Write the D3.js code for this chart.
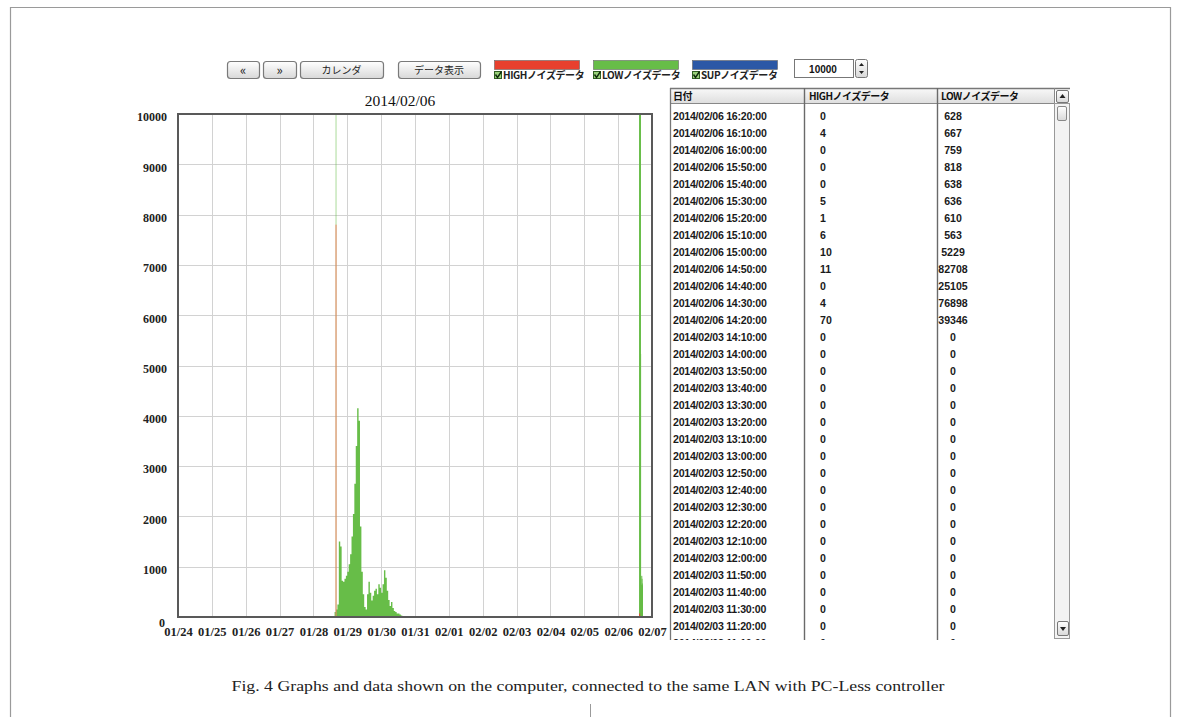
<!DOCTYPE html>
<html><head><meta charset="utf-8">
<script src="https://cdn.jsdelivr.net/npm/d3@7"></script>
<style>
html,body{margin:0;padding:0;background:#fff;}
svg{display:block;}
</style></head><body>
<svg id="c" width="1181" height="717"></svg>
<script>
// ---------------- DATA ----------------
const chartTitle = "2014/02/06";
const xTickLabels = ["01/24","01/25","01/26","01/27","01/28","01/29","01/30","01/31","02/01","02/02","02/03","02/04","02/05","02/06","02/07"];
const yTickValues = [0,1000,2000,3000,4000,5000,6000,7000,8000,9000,10000];
const toolbarButtons = ["\u00AB","\u00BB","カレンダ","データ表示"];
const seriesNames = ["HIGHノイズデータ","LOWノイズデータ","SUPノイズデータ"];
const maxValueText = "10000";
const captionText = "Fig. 4  Graphs and data shown on the computer, connected to the same LAN with PC-Less controller";

// LOW noise, hourly bins 2014/01/28 15:00 - 2014/01/30 15:00
const lowHumpTimes = ["2014/01/28 15:00:00","2014/01/28 16:00:00","2014/01/28 17:00:00","2014/01/28 18:00:00","2014/01/28 19:00:00","2014/01/28 20:00:00","2014/01/28 21:00:00","2014/01/28 22:00:00","2014/01/28 23:00:00",
  "2014/01/29 00:00:00","2014/01/29 01:00:00","2014/01/29 02:00:00","2014/01/29 03:00:00","2014/01/29 04:00:00","2014/01/29 05:00:00","2014/01/29 06:00:00","2014/01/29 07:00:00","2014/01/29 08:00:00","2014/01/29 09:00:00","2014/01/29 10:00:00","2014/01/29 11:00:00","2014/01/29 12:00:00","2014/01/29 13:00:00","2014/01/29 14:00:00","2014/01/29 15:00:00","2014/01/29 16:00:00","2014/01/29 17:00:00","2014/01/29 18:00:00","2014/01/29 19:00:00","2014/01/29 20:00:00","2014/01/29 21:00:00","2014/01/29 22:00:00","2014/01/29 23:00:00",
  "2014/01/30 00:00:00","2014/01/30 01:00:00","2014/01/30 02:00:00","2014/01/30 03:00:00","2014/01/30 04:00:00","2014/01/30 05:00:00","2014/01/30 06:00:00","2014/01/30 07:00:00","2014/01/30 08:00:00","2014/01/30 09:00:00","2014/01/30 10:00:00","2014/01/30 11:00:00","2014/01/30 12:00:00","2014/01/30 13:00:00","2014/01/30 14:00:00","2014/01/30 15:00:00"];
const lowHumpValues = [100,150,250,1500,1400,720,700,760,820,
  900,1050,1250,1600,2050,2650,3400,4150,3900,1800,900,450,200,150,450,700,480,330,420,520,560,450,650,580,
  480,650,930,780,520,340,220,300,180,120,100,70,70,50,30,0];

// single over-range sample at 01/28 15:40
const spikeTime = "2014/01/28 15:40:00";
const spikeLow = 15000;
const spikeHigh = 7800;

// table (newest first)
const tableDates = ["2014/02/06 16:20:00","2014/02/06 16:10:00","2014/02/06 16:00:00","2014/02/06 15:50:00","2014/02/06 15:40:00","2014/02/06 15:30:00","2014/02/06 15:20:00","2014/02/06 15:10:00","2014/02/06 15:00:00","2014/02/06 14:50:00","2014/02/06 14:40:00","2014/02/06 14:30:00","2014/02/06 14:20:00",
  "2014/02/03 14:10:00","2014/02/03 14:00:00","2014/02/03 13:50:00","2014/02/03 13:40:00","2014/02/03 13:30:00","2014/02/03 13:20:00","2014/02/03 13:10:00","2014/02/03 13:00:00","2014/02/03 12:50:00","2014/02/03 12:40:00","2014/02/03 12:30:00","2014/02/03 12:20:00","2014/02/03 12:10:00","2014/02/03 12:00:00","2014/02/03 11:50:00","2014/02/03 11:40:00","2014/02/03 11:30:00","2014/02/03 11:20:00","2014/02/03 11:10:00"];
const tableHigh = [0,4,0,0,0,5,1,6,10,11,0,4,70, 0,0,0,0,0,0,0,0,0,0,0,0,0,0,0,0,0,0,0];
const tableLow = [628,667,759,818,638,636,610,563,5229,82708,25105,76898,39346, 0,0,0,0,0,0,0,0,0,0,0,0,0,0,0,0,0,0,0];
const tableHeaders = ["日付","HIGHノイズデータ","LOWノイズデータ"];

// ---------------- STYLE ----------------
const colors = {high:"#e8402e", low:"#67bd48", sup:"#2b58a6"};
const svg = d3.select("#c");
const parse = d3.timeParse("%Y/%m/%d %H:%M:%S");

// page frame
svg.append("path").attr("d","M10.5,717 V7.5 H1170.5 V717").attr("fill","none").attr("stroke","#9a9a9a").attr("stroke-width",1.2);
svg.append("line").attr("x1",590.5).attr("x2",590.5).attr("y1",704).attr("y2",717).attr("stroke","#9a9a9a").attr("stroke-width",1);

// ---------------- TOOLBAR ----------------
const btnDefs = d3.zip(toolbarButtons, [[227,32],[263,33],[300,83],[398,82]]);
const grad = svg.append("defs");
const bg = grad.append("linearGradient").attr("id","btn").attr("x1",0).attr("y1",0).attr("x2",0).attr("y2",1);
bg.append("stop").attr("offset","0%").attr("stop-color","#ffffff");
bg.append("stop").attr("offset","100%").attr("stop-color","#d8d8d8");
const hg = grad.append("linearGradient").attr("id","hdr").attr("x1",0).attr("y1",0).attr("x2",0).attr("y2",1);
hg.append("stop").attr("offset","0%").attr("stop-color","#f8f8f8");
hg.append("stop").attr("offset","100%").attr("stop-color","#dedede");

const btn = svg.append("g").selectAll("g").data(btnDefs).join("g");
btn.append("rect").attr("x",d=>d[1][0]+0.5).attr("y",61.5).attr("width",d=>d[1][1]).attr("height",17).attr("rx",3)
  .attr("fill","url(#btn)").attr("stroke","#7a7a7a").attr("stroke-width",1.2);
btn.append("text").attr("x",d=>d[1][0]+d[1][1]/2).attr("y",(d,i)=>i<2?74.5:73.5).attr("text-anchor","middle")
  .attr("font-family","'Noto Sans CJK JP', sans-serif").attr("font-size",(d,i)=>i<2?13:10).attr("fill","#222").text(d=>d[0]);

const legX = [494, 593, 692];
const legColors = [colors.high, colors.low, colors.sup];
const leg = svg.append("g").selectAll("g").data(seriesNames).join("g");
leg.append("rect").attr("x",(d,i)=>legX[i]+0.5).attr("y",60.5).attr("width",85).attr("height",9)
  .attr("fill",(d,i)=>legColors[i]).attr("stroke","#666").attr("stroke-width",0.6);
leg.append("rect").attr("x",(d,i)=>legX[i]+0.5).attr("y",71.5).attr("width",7).attr("height",7)
  .attr("fill","#9ad27a").attr("stroke","#2f5e22").attr("stroke-width",1);
leg.append("path").attr("d",(d,i)=>`M${legX[i]+1.5},74.5 L${legX[i]+3.5},77.5 L${legX[i]+7.5},71.5`)
  .attr("fill","none").attr("stroke","#0f2a0c").attr("stroke-width",1.4);
leg.append("text").attr("x",(d,i)=>legX[i]+9).attr("y",78.5).attr("font-family","'Noto Sans CJK JP', sans-serif")
  .attr("font-size",10).attr("font-weight","bold").attr("letter-spacing",-0.4).attr("fill","#222").text(d=>d);

// value box + spinner
svg.append("rect").attr("x",794.5).attr("y",59.5).attr("width",59).attr("height",18).attr("fill","#fff").attr("stroke","#777");
svg.append("text").attr("x",823).attr("y",72.5).attr("text-anchor","middle").attr("font-family","'Liberation Sans', Arial, sans-serif")
  .attr("font-size",10).attr("font-weight","bold").attr("fill","#111").text(maxValueText);
svg.append("rect").attr("x",855.5).attr("y",59.5).attr("width",12).attr("height",18).attr("rx",2).attr("fill","url(#btn)").attr("stroke","#777");
svg.append("path").attr("d","M859,66 L861.5,63 L864,66 Z M859,71 L861.5,74 L864,71 Z").attr("fill","#222");

// ---------------- CHART ----------------
const X0 = 178, X1 = 652, Y0 = 617, Y1 = 114;
const x = d3.scaleTime().domain([new Date(2014,0,24), new Date(2014,1,7)]).range([X0, X1]);
const y = d3.scaleLinear().domain([0,10000]).range([Y0, Y1]);
const yc = v => y(Math.min(v, 10000));

svg.append("text").attr("x",(X0+X1)/2-15).attr("y",106).attr("text-anchor","middle")
  .attr("font-family","'Liberation Serif', serif").attr("font-size",15.5).attr("fill","#111").text(chartTitle);

const tickDates = xTickLabels.map((s,i)=>d3.timeDay.offset(new Date(2014,0,24), i));
const grid = svg.append("g").attr("stroke","#d2d2d2").attr("stroke-width",1);
grid.selectAll("line.v").data(tickDates.slice(1,-1)).join("line")
  .attr("x1",d=>Math.round(x(d))+0.5).attr("x2",d=>Math.round(x(d))+0.5).attr("y1",Y1).attr("y2",Y0);
grid.selectAll("line.h").data(yTickValues.slice(1,-1)).join("line")
  .attr("x1",X0).attr("x2",X1).attr("y1",d=>Math.round(y(d))+0.5).attr("y2",d=>Math.round(y(d))+0.5);

const plot = svg.append("g");
// LOW hump
const hump = lowHumpTimes.map((t,i)=>({t:parse(t), v:lowHumpValues[i]}));
plot.append("path").datum(hump)
  .attr("d", d3.area().x(d=>x(d.t)).y0(Y0).y1(d=>yc(d.v)).curve(d3.curveStepAfter))
  .attr("fill", colors.low);

// LOW over-range spike, then HIGH on top (single thin samples)
const st = parse(spikeTime);
const tenMin = 10*60*1000;
const bw = t => Math.max(x(new Date(+t+tenMin)) - x(t), 1);
plot.append("rect").attr("x",x(st)).attr("width",bw(st)).attr("y",yc(spikeLow)).attr("height",Y0-yc(spikeLow)).attr("fill",colors.low).attr("opacity",0.55);
plot.append("rect").attr("x",x(st)).attr("width",bw(st)).attr("y",yc(spikeHigh)).attr("height",Y0-yc(spikeHigh)).attr("fill","#f2876a");

// recent samples from the table
const recent = tableDates.map((t,i)=>({t:parse(t), low:tableLow[i], high:tableHigh[i]}));
plot.selectAll("rect.low").data(recent.filter(d=>d.low>0)).join("rect")
  .attr("x",d=>x(d.t)+0.8).attr("width",d=>bw(d.t)).attr("y",d=>yc(d.low)).attr("height",d=>Y0-yc(d.low)).attr("fill",colors.low);
plot.selectAll("rect.high").data(recent.filter(d=>d.high>0)).join("rect")
  .attr("x",d=>x(d.t)+0.8).attr("width",d=>bw(d.t)).attr("y",d=>yc(d.high)).attr("height",d=>Y0-yc(d.high)).attr("fill",colors.high);

// frame
svg.append("rect").attr("x",X0).attr("y",Y1).attr("width",X1-X0).attr("height",Y0-Y1)
  .attr("fill","none").attr("stroke","#595959").attr("stroke-width",2);

// axes labels
const yAxis = d3.axisLeft(y).tickValues(yTickValues).tickFormat(d3.format("d")).tickSize(0).tickPadding(0);
const ya = svg.append("g").attr("transform",`translate(${X0-11},3)`).call(yAxis);
ya.select(".domain").remove();
ya.selectAll("text").attr("font-family","'Liberation Serif', serif").attr("font-size",12).attr("font-weight","bold").attr("fill","#222");
ya.selectAll(".tick").filter(d=>d===0).select("text").attr("dy","0.55em").attr("x",-2);

const xAxis = d3.axisBottom(x).tickValues(tickDates).tickFormat((d,i)=>xTickLabels[i]).tickSize(0).tickPadding(0);
const xa = svg.append("g").attr("transform",`translate(0,${Y0+10})`).call(xAxis);
xa.select(".domain").remove();
xa.selectAll("text").attr("font-family","'Liberation Serif', serif").attr("font-size",12.5).attr("font-weight","bold").attr("fill","#222");

// ---------------- TABLE ----------------
const TX0 = 670, C1 = 804, C2 = 937, C3 = 1054, TX1 = 1070, TY0 = 88, HDR = 103, TY1 = 640, RT = 107, RH = 17;
svg.append("rect").attr("x",TX0+0.5).attr("y",TY0+0.5).attr("width",C3-TX0).attr("height",HDR-TY0).attr("fill","url(#hdr)").attr("stroke","#888");
svg.append("line").attr("x1",TX0+0.5).attr("x2",TX0+0.5).attr("y1",TY0).attr("y2",TY1).attr("stroke","#777").attr("stroke-width",1.3);
svg.append("line").attr("x1",TX0).attr("x2",TX1).attr("y1",TY0+0.5).attr("y2",TY0+0.5).attr("stroke","#777").attr("stroke-width",1.3);
[C1,C2].forEach(cx=>svg.append("line").attr("x1",cx+0.5).attr("x2",cx+0.5).attr("y1",TY0).attr("y2",TY1).attr("stroke","#6a6a6a").attr("stroke-width",1.4));
svg.append("line").attr("x1",C3+0.5).attr("x2",C3+0.5).attr("y1",TY0).attr("y2",HDR).attr("stroke","#888");

const hx = [TX0+3, C1+5, C2+4];
svg.append("g").selectAll("text").data(tableHeaders).join("text")
  .attr("x",(d,i)=>hx[i]).attr("y",HDR-3.5).attr("font-family","'Noto Sans CJK JP', sans-serif")
  .attr("font-size",10).attr("font-weight","bold").attr("letter-spacing",-0.5).attr("fill","#111").text(d=>d);

svg.select("defs").append("clipPath").attr("id","tclip").append("rect").attr("x",TX0).attr("y",HDR).attr("width",C3-TX0).attr("height",TY1-HDR);
const rows = svg.append("g").attr("clip-path","url(#tclip)").selectAll("g").data(d3.range(tableDates.length)).join("g")
  .attr("transform",i=>`translate(0,${RT+i*RH+12.5})`);
const tf = sel => sel.attr("font-family","'Liberation Sans', Arial, sans-serif").attr("font-size",10.6).attr("font-weight","bold").attr("fill","#1a1a1a");
rows.append("text").attr("x",TX0+3).call(tf).attr("letter-spacing",-0.25).text(i=>tableDates[i]);
rows.append("text").attr("x",C1+16).call(tf).text(i=>tableHigh[i]);
rows.append("text").attr("x",C2+16).attr("text-anchor","middle").call(tf).text(i=>tableLow[i]);

// scrollbar
svg.append("rect").attr("x",C3+0.5).attr("y",HDR+0.5).attr("width",TX1-C3-1).attr("height",TY1-HDR-2).attr("fill","#f3f3f3").attr("stroke","#999");
svg.append("rect").attr("x",C3+2.5).attr("y",TY0+2.5).attr("width",12).attr("height",12).attr("rx",1.5).attr("fill","url(#btn)").attr("stroke","#777");
svg.append("path").attr("d",`M${C3+5.5},${TY0+10} L${C3+8.5},${TY0+6} L${C3+11.5},${TY0+10} Z`).attr("fill","#222");
svg.append("rect").attr("x",C3+3.5).attr("y",106.5).attr("width",9).attr("height",14).attr("rx",1.5).attr("fill","url(#btn)").attr("stroke","#888");
svg.append("rect").attr("x",C3+3.5).attr("y",621.5).attr("width",11).attr("height",14).attr("rx",1.5).attr("fill","url(#btn)").attr("stroke","#777");
svg.append("path").attr("d",`M${C3+6},627 L${C3+9},631 L${C3+12},627 Z`).attr("fill","#222");

// ---------------- CAPTION ----------------
svg.append("text").attr("x",588).attr("y",691).attr("text-anchor","middle").attr("font-family","'Liberation Serif', serif")
  .attr("font-size",15).attr("fill","#222").attr("textLength",713).attr("lengthAdjust","spacingAndGlyphs").text(captionText);
</script>
</body></html>
